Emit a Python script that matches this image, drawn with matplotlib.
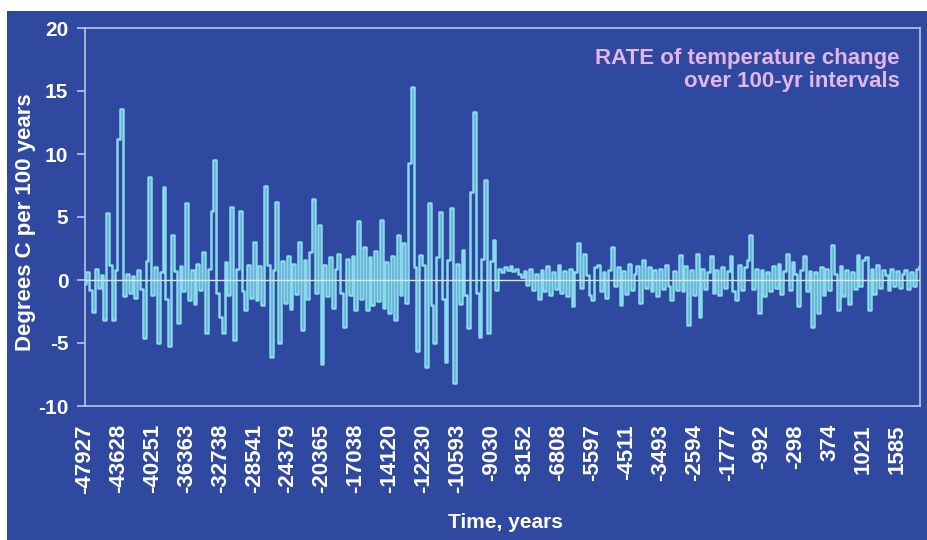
import numpy as np
import matplotlib.pyplot as plt
from matplotlib.patches import Rectangle

# year labels shown under the chart, one every 12 samples
year_labels = ['-47927', '-43628', '-40251', '-36363', '-32738', '-28541',
               '-24379', '-20365', '-17038', '-14120', '-12230', '-10593',
               '-9030', '-8152', '-6808', '-5597', '-4511', '-3493',
               '-2594', '-1777', '-992', '-298', '374', '1021', '1585']
points_per_label = 12

# rate of change, deg C per 100 yr (one row per label)
rate = [
    -0.3, 0.6, -0.8, -2.5, 0.9, -0.6, 0.4, -3.2, 5.3, 1.2, -3.2, 0.8,
    11.2, 13.6, -1.3, 0.5, -1.0, 0.3, -1.4, 0.8, -0.7, -4.6, 1.5, 8.2,
    -1.2, 1.0, -5.0, 0.6, 7.4, -1.5, -5.2, 3.6, 0.7, -3.4, 1.1, -0.9,
    6.1, -1.6, 0.8, -1.9, 1.3, -0.8, 2.2, -4.2, 0.9, 5.5, 9.5, -1.0,
    -2.9, -4.2, 1.4, -1.2, 5.8, -4.8, 0.9, 5.5, -0.9, -2.4, 1.2, -1.4,
    3.0, -1.6, 1.1, -2.0, 7.5, 1.2, -6.1, 0.8, 6.2, -5.0, 1.5, -1.8,
    1.9, -2.3, 1.3, -1.1, 3.0, -4.0, 1.6, -1.5, 2.2, 6.4, -1.0, 4.4,
    -6.7, 1.2, -1.3, 1.8, -2.2, 0.9, 2.1, -1.0, -3.7, 1.7, -1.2, 1.9,
    -2.4, 4.7, -1.5, 2.6, -2.4, 1.8, -2.0, 2.3, -1.7, 4.8, -2.2, 1.4,
    -2.6, 1.9, -3.2, 3.6, -1.2, 2.9, -1.8, 9.3, 15.3, 1.0, -5.6, 2.0,
    1.2, -6.9, 6.1, -2.0, -5.0, 1.8, 5.4, -1.5, -6.5, 1.6, 5.7, -8.2,
    1.3, -1.9, 2.4, -1.2, -3.8, 7.0, 13.3, -1.0, -4.5, 1.7, 7.9, -4.2,
    1.5, 3.2, -0.8, 0.9, 0.6, 1.0, 0.8, 1.1, 0.7, 0.9, 0.5, 0.2,
    0.7, -0.4, 0.9, -0.8, 0.5, -1.5, 0.8, -0.9, 1.1, -1.2, 0.6, -0.7,
    1.2, -1.0, 0.7, -1.3, 0.9, -2.1, 0.6, 2.9, -0.6, 2.1, 0.4, -1.2,
    -1.6, 1.0, 1.2, -0.9, 0.6, -1.4, 0.8, 2.6, -0.5, 1.0, -2.0, 0.7,
    -1.1, 1.3, -0.8, 0.5, 1.1, -1.8, 1.6, -0.6, 1.0, -0.9, 0.8, -1.3,
    0.9, -0.7, 1.2, -0.5, -1.6, 0.7, -0.8, 2.0, -0.9, 1.1, -3.6, 0.8,
    -1.2, 2.1, -2.9, 0.9, -0.7, 0.6, 1.9, -1.0, 0.8, -1.2, 1.0, -0.6,
    0.7, 1.9, -0.9, -1.6, 1.2, -0.8, 1.0, 1.6, 3.6, -0.7, 0.9, -2.6,
    0.8, -1.3, 0.6, -0.9, 1.1, -0.6, 1.3, -1.1, 0.7, 2.1, -0.8, 1.4,
    0.5, -2.1, 0.8, 1.9, -0.9, 0.7, -3.7, 0.6, -2.6, 1.0, -1.2, 0.9,
    -0.8, 2.8, 0.5, -2.4, 1.1, -1.3, 0.8, -1.9, 0.6, -0.7, 2.0, -0.5,
    1.6, 1.8, -2.4, 0.9, -1.1, 1.2, -0.6, 0.8, 0.4, -0.8, 0.9, -0.5,
    0.7, -0.6, 0.5, 0.8, -0.7, 0.6, -0.5, 0.9, 1.1,
]

bg = '#2f48a0'
plt.rcParams['font.family'] = ['Liberation Sans', 'DejaVu Sans']
plt.rcParams['font.weight'] = 'bold'
plt.rcParams['axes.unicode_minus'] = False

fig = plt.figure(figsize=(9.28, 5.4), dpi=100, facecolor='white')
# blue panel, leaves a thin white strip on the left and top
fig.patches.append(Rectangle((7 / 928, 0), 1, 1 - 11 / 540, transform=fig.transFigure,
                             facecolor=bg, edgecolor='none', zorder=-10))

ax = fig.add_axes([85 / 928, 1 - 406 / 540, 835 / 928, 378 / 540])
ax.set_facecolor(bg)

x = np.arange(len(rate))
ax.plot(x, rate, color='#88dbec', lw=1.8, drawstyle='steps-mid', zorder=2)
ax.axhline(0, color='#dde3f7', lw=1, zorder=3)

ax.set_xlim(0, len(rate) - 1)
ax.set_ylim(-10, 20)
ax.set_yticks(range(-10, 25, 5))
ax.set_xticks(np.arange(len(year_labels)) * points_per_label)
ax.set_xticklabels(year_labels, rotation=90, va='top')

for s in ax.spines.values():
    s.set_color('#b9c4ee')
    s.set_linewidth(1.2)
ax.tick_params(axis='y', colors='#b9c4ee', labelcolor='white', labelsize=15,
               length=6, width=1.2, pad=6)
ax.tick_params(axis='x', labelcolor='white', labelsize=16, length=0, pad=13)

# labels and note
fig.text(26 / 928, 1 - 222 / 540, 'Degrees C per 100 years', rotation=90,
         ha='center', va='center', color='white', fontsize=16)
fig.text(505 / 928, 1 - 523 / 540, 'Time, years', ha='center', va='center',
         color='white', fontsize=15)
fig.text(900 / 928, 1 - 48 / 540, 'RATE of temperature change\nover 100-yr intervals',
         ha='right', va='top', color='#e2b6e6', fontsize=16, linespacing=1.1)

plt.savefig('out.png', dpi=100, facecolor='white')
